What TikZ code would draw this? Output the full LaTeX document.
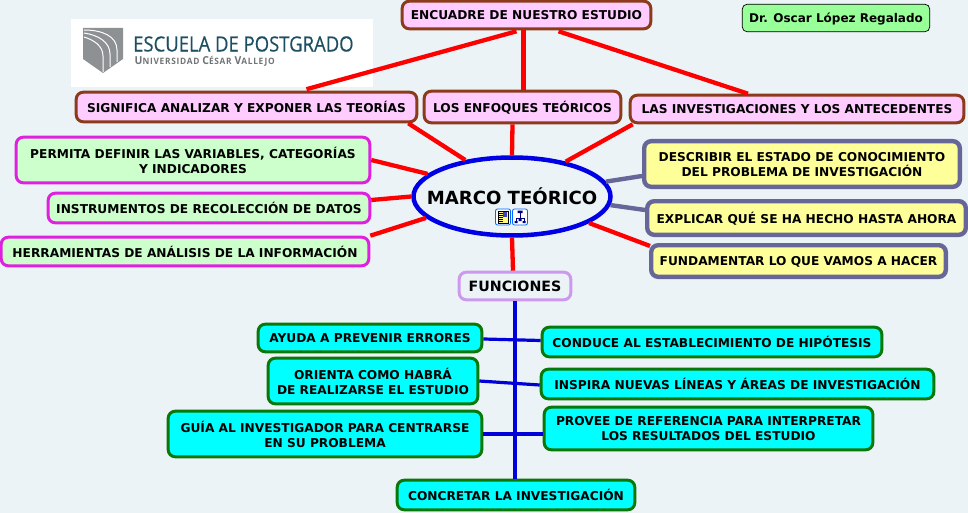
\documentclass[tikz,border=0pt]{standalone}
\usepackage{fontspec}
\usetikzlibrary{shapes.geometric}
\setmainfont{DejaVu Sans}
\newfontfamily\logofont[FakeStretch=0.88,FakeBold=0.4]{Open Sans}
\newfontfamily\logosub[FakeStretch=0.95,LetterSpace=8]{Open Sans}
\definecolor{bgc}{HTML}{EBF3F7}
\definecolor{brownb}{HTML}{8B3A1A}
\definecolor{pinkf}{HTML}{FFCCFF}
\definecolor{greenf}{HTML}{CCFFCC}
\definecolor{yellowf}{HTML}{FFFF99}
\definecolor{slateb}{HTML}{666699}
\definecolor{lilac}{HTML}{CC99EE}
\definecolor{darkg}{HTML}{087808}
\definecolor{logob}{HTML}{1C4F63}
\definecolor{logog}{HTML}{8E9194}
\definecolor{cyanf}{HTML}{00FFFF}
\definecolor{magb}{HTML}{E020E0}
\definecolor{drf}{HTML}{99FF99}
\newcommand\bx[7]{\node[#6,minimum width={(#4-#2-2.4)*1pt},minimum height={(#5-#3-2.4)*1pt}] (#1) at ({(#2+#4)/2},{(#3+#5)/2}) {#7};}
\newcommand\lsz[1]{{\fontsize{11}{11}\selectfont #1}}
\tikzset{
 base/.style={rectangle,rounded corners=7pt,inner sep=0pt,align=center,text depth=-1.4pt,font=\fontsize{12.2}{15}\selectfont\bfseries,text=black},
 pinkbox/.style={base,draw=brownb,line width=3pt,fill=pinkf},
 mintbox/.style={base,draw=magb,line width=3pt,fill=greenf},
 yellowbox/.style={base,draw=slateb,line width=4.4pt,fill=yellowf},
 cyanbox/.style={base,draw=darkg,line width=3pt,fill=cyanf},
 funcbox/.style={base,draw=lilac,line width=3pt,fill=bgc,font=\fontsize{14.2}{16}\selectfont\bfseries},
 drbox/.style={base,draw=black,line width=.7pt,fill=drf,font=\fontsize{12}{14}\selectfont\bfseries,rounded corners=5pt},
 redl/.style={draw=red,line width=4.3pt},
 slatel/.style={draw=slateb,line width=4.4pt},
 bluel/.style={draw=blue!85!black,line width=3.2pt},
 iconb/.style={draw=blue!60!cyan,line width=.8pt,fill=white,rounded corners=2pt},
}
\begin{document}
\begin{tikzpicture}[x=1pt,y=-1pt]
\fill[bgc] (0,0) rectangle (968,513);
\useasboundingbox (0,0) rectangle (968,513);
% logo
\fill[white] (71,19) rectangle (373,87);
\fill[logog] (83,28) -- (123,28) -- (123,59) -- (103,73) -- (83,59) -- cycle;
\draw[white,line width=1pt] (84,30) .. controls (102,30) and (117,36) .. (117,50) -- (117,62);
\draw[white,line width=1pt] (84,33) .. controls (98,35) and (110,42) .. (110,54) -- (110,67);
\draw[white,line width=1pt] (84,37) .. controls (94,40) and (103,46) .. (103,56) -- (103,72);
\node[inner sep=0pt,anchor=west,text=logob,font=\logofont\fontsize{21}{22}\selectfont] (logoa) at (133,44) {ESCUELA DE POSTGRADO};
\node[inner sep=0pt,anchor=west,text=logog!80!black,font=\logosub\fontsize{8.8}{9}\selectfont\bfseries] (logob) at (134.5,61) {\lsz{U}NIVERSIDAD \lsz{C}ÉSAR \lsz{V}ALLEJO};
% nodes
\node[ellipse,draw=blue!90!black,line width=4.5pt,fill=bgc,minimum width=197pt,minimum height=78pt,inner sep=0pt] (m) at (512,196.5) {};
\node[inner sep=0pt,font=\fontsize{18.1}{20}\selectfont\bfseries] (mt) at (512,196) {MARCO TEÓRICO};
\bx{enc}{401}{0}{652}{30}{pinkbox}{ENCUADRE DE NUESTRO ESTUDIO}
\bx{sig}{75}{91}{418}{123}{pinkbox}{SIGNIFICA ANALIZAR Y EXPONER LAS TEORÍAS}
\bx{enf}{423}{90}{622}{124}{pinkbox}{LOS ENFOQUES TEÓRICOS}
\bx{inv}{629}{94}{965}{124}{pinkbox}{LAS INVESTIGACIONES Y LOS ANTECEDENTES}
\bx{dr}{741}{3}{931}{33}{drbox}{Dr. Oscar López Regalado}
\bx{per}{15}{136}{371}{184}{mintbox}{PERMITA DEFINIR LAS VARIABLES, CATEGORÍAS\\Y INDICADORES}
\bx{ins}{47}{192}{371}{224}{mintbox}{INSTRUMENTOS DE RECOLECCIÓN DE DATOS}
\bx{her}{0}{236}{370}{267}{mintbox}{HERRAMIENTAS DE ANÁLISIS DE LA INFORMACIÓN}
\bx{des}{643}{140}{961}{188}{yellowbox}{DESCRIBIR EL ESTADO DE CONOCIMIENTO\\DEL PROBLEMA DE INVESTIGACIÓN}
\bx{exp}{646}{200}{967}{236}{yellowbox}{EXPLICAR QUÉ SE HA HECHO HASTA AHORA}
\bx{fun}{650}{244}{947}{278}{yellowbox}{FUNDAMENTAR LO QUE VAMOS A HACER}
\bx{fu}{458}{271}{572}{301}{funcbox}{FUNCIONES}
\bx{ayu}{257}{323}{483}{353}{cyanbox}{AYUDA A PREVENIR ERRORES}
\bx{ori}{267}{357}{479}{405}{cyanbox}{ORIENTA COMO HABRÁ\\DE REALIZARSE EL ESTUDIO}
\bx{gui}{167}{410}{483}{458}{cyanbox}{GUÍA AL INVESTIGADOR PARA CENTRARSE\\EN SU PROBLEMA}
\bx{con}{541}{326}{883}{358}{cyanbox}{CONDUCE AL ESTABLECIMIENTO DE HIPÓTESIS}
\bx{ins2}{540}{368}{935}{400}{cyanbox}{INSPIRA NUEVAS LÍNEAS Y ÁREAS DE INVESTIGACIÓN}
\bx{pro}{543}{406}{874}{451}{cyanbox}{PROVEE DE REFERENCIA PARA INTERPRETAR\\LOS RESULTADOS DEL ESTUDIO}
\bx{cnc}{396}{479}{636}{511}{cyanbox}{CONCRETAR LA INVESTIGACIÓN}
% icons
\node[iconb,minimum width=15pt,minimum height=16pt,inner sep=0pt] (ia) at (503,217) {};
\node[iconb,minimum width=15pt,minimum height=16pt,inner sep=0pt] (ib) at (520,217) {};
\fill[yellow!50] (498,211) rectangle (508,223);
\draw[black,line width=.5pt] (498,211) rectangle (508,223);
\foreach \yy in {213,215,217,219,221}{\draw[black,line width=.5pt] (499,\yy) -- (502.5,\yy);}
\fill[blue!50!gray] (503,212) rectangle (507,216.5);
\draw[blue!50!black,line width=.6pt] (520,213) -- (520,219) (516,221) -- (516,218.5) -- (524,218.5) -- (524,221);
\fill[blue!50!black] (517.5,210.5) rectangle (522.5,213) (514.5,221) rectangle (517.5,223) (518.5,219) rectangle (521.5,221) (522.5,221) rectangle (525.5,223);
% connectors
\draw[redl] ([xshift=-10pt,yshift=-1pt]enc.south) -- ([xshift=60pt,yshift=1.5pt]sig.north);
\draw[redl] ([xshift=-3pt]enc.south) -- ([xshift=1pt]enf.north);
\draw[redl] ([xshift=32pt,yshift=-1pt]enc.south) -- ([xshift=-49pt]inv.north);
\draw[redl] (m.142) -- ([xshift=-10pt]sig.south east);
\draw[redl] (m.90) -- ([xshift=-10pt]enf.south);
\draw[redl] (m.33) -- ([xshift=4pt]inv.south west);
\draw[redl] (m.165) -- (per.east);
\draw[redl] (m.west) -- ([yshift=8pt]ins.east);
\draw[redl] (m.194) -- (her.north east);
\draw[slatel] (m.9) -- ([yshift=-12pt]des.west);
\draw[slatel] (m.355) -- ([yshift=8pt]exp.west);
\draw[redl] (m.341) -- ([yshift=-3pt,xshift=1pt]fun.north west);
\draw[redl] (m.south) -- ([xshift=-2pt]fu.north);
\draw[bluel] (fu.south) -- ([xshift=-1pt]cnc.north);
\draw[bluel] ([yshift=-1pt]ayu.east) -- ([yshift=1.5pt]con.west);
\draw[bluel] (ori.east) -- ([yshift=-1pt]ins2.west);
\draw[bluel] (gui.east) -- ([yshift=-5.5pt]pro.west);
\end{tikzpicture}
\end{document}
